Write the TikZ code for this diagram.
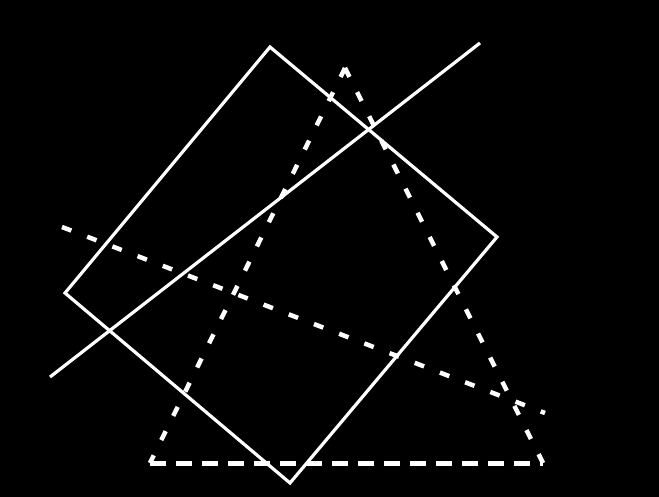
\documentclass[tikz,border=0pt]{standalone}
\usepackage{tikz}
\usetikzlibrary{positioning,calc}

\begin{document}
\begin{tikzpicture}[
    x=1pt, y=-1pt,
    solidline/.style={draw=white, line width=3.2pt},
    dashline/.style={draw=white, line width=4.5pt, dash pattern=on 10pt off 17pt},
    baseline/.style={draw=white, line width=5pt, dash pattern=on 16pt off 10pt}
]
    % Background
    \fill[black] (0,0) rectangle (659,497);
    \useasboundingbox (0,0) rectangle (659,497);

    % Rectangle corners
    \coordinate (RT) at (270,47);
    \coordinate (RR) at (497,237);
    \coordinate (RB) at (290,483);
    \coordinate (RL) at (65,293);

    % Triangle corners
    \coordinate (TA) at (345,68);
    \coordinate (TB) at (150,463);
    \coordinate (TC) at (543,463);

    % Line ends
    \coordinate (LA) at (50,377);
    \coordinate (LB) at (480,43);
    \coordinate (DA) at (62,227);
    \coordinate (DB) at (545,413);

    % Rotated rectangle
    \draw[solidline, line join=miter] (RT) -- (RR) -- (RB) -- (RL) -- cycle;

    % Solid line
    \draw[solidline] (LA) -- (LB);

    % Dashed triangle
    \draw[dashline] (TA) -- (TB);
    \draw[dashline] (TA) -- (TC);
    \draw[baseline] (TB) -- (TC);

    % Dashed line
    \draw[dashline] (DA) -- (DB);
\end{tikzpicture}
\end{document}
